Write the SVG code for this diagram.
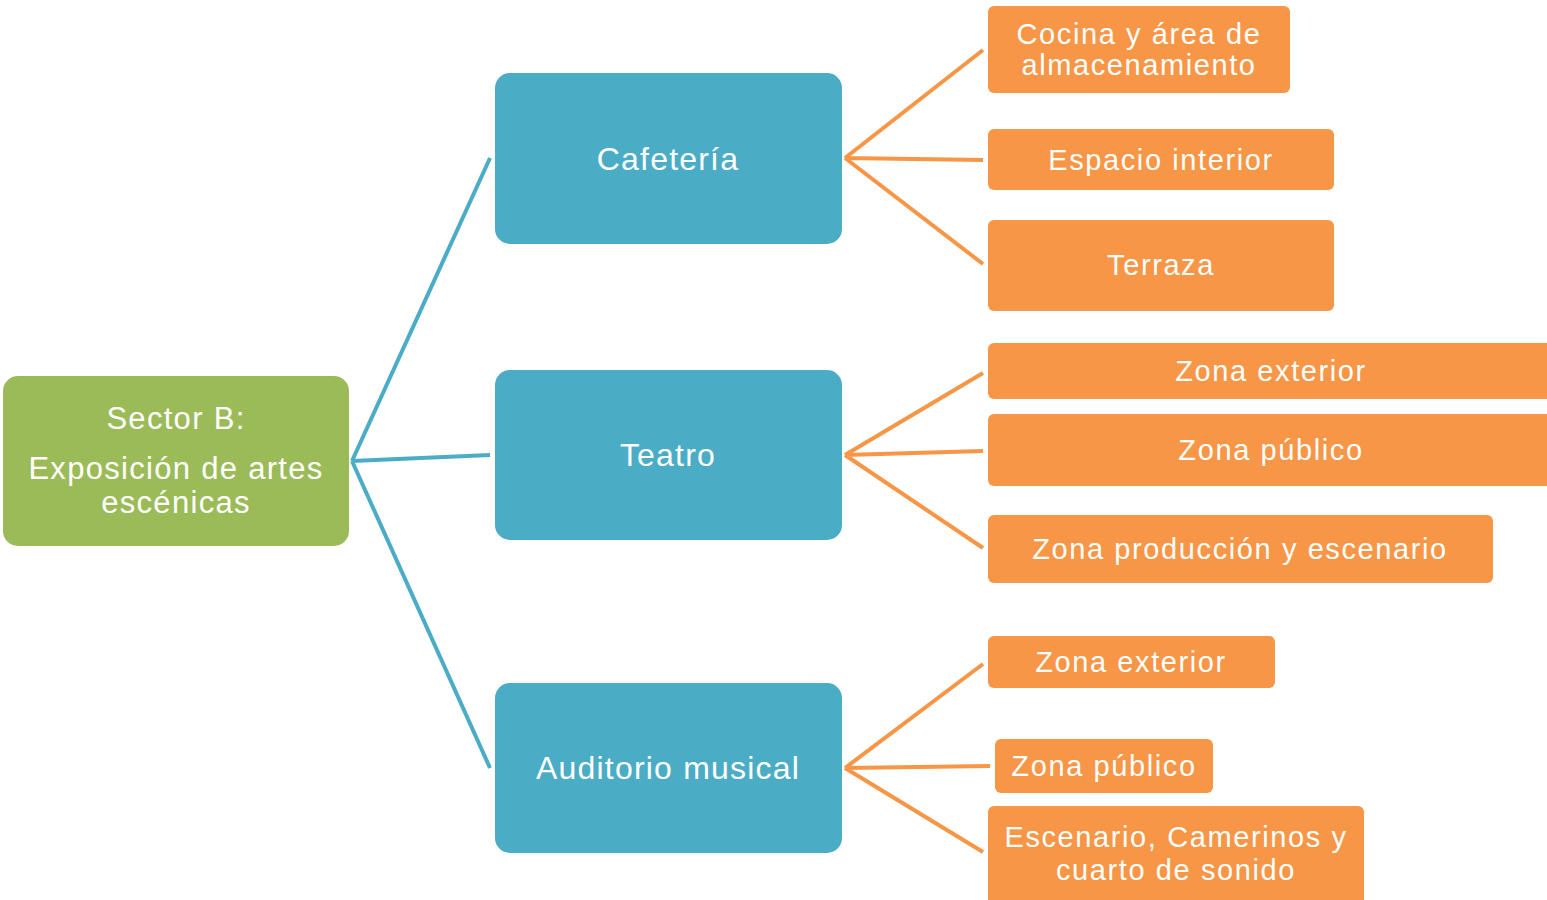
<svg xmlns="http://www.w3.org/2000/svg" width="1547" height="900" viewBox="0 0 1547 900">
<style>
text{font-family:"Liberation Sans",Arial,sans-serif;fill:#fff;text-anchor:middle;dominant-baseline:central}
.g{fill:#9BBB59}
.b{fill:#4BACC6}
.o{fill:#F79646}
.t1{font-size:31px;letter-spacing:1.3px}
.t2{font-size:32px;letter-spacing:1.2px}
.t3{font-size:29px;letter-spacing:1.6px}
.cb{stroke:#4BACC6;stroke-width:4;fill:none}
.co{stroke:#F79646;stroke-width:4;fill:none}
</style>
<rect width="1547" height="900" fill="#fff"/>
<g id="connectors">
<path class="cb" d="M352 461L490 158M352 461L490 455M352 461L490 768"/>
<path class="co" d="M845 158L983 50M845 158L983 160M845 158L983 264"/>
<path class="co" d="M845 455L983 373M845 455L983 451M845 455L983 548"/>
<path class="co" d="M845 768L983 664M845 768L990 766M845 768L983 852"/>
</g>
<g id="root"><rect class="g" x="3" y="376" width="346" height="170" rx="15"/>
<text class="t1" x="176" y="418">Sector B:</text>
<text class="t1" x="176" y="468">Exposición de artes</text>
<text class="t1" x="176" y="502">escénicas</text></g>
<g id="cafeteria"><rect class="b" x="495" y="73" width="347" height="171" rx="15"/>
<text class="t2" x="668" y="159">Cafetería</text></g>
<g id="teatro"><rect class="b" x="495" y="370" width="347" height="170" rx="15"/>
<text class="t2" x="668" y="455">Teatro</text></g>
<g id="auditorio"><rect class="b" x="495" y="683" width="347" height="170" rx="15"/>
<text class="t2" x="668" y="768">Auditorio musical</text></g>
<g id="cocina"><rect class="o" x="988" y="6" width="302" height="87" rx="6"/>
<text class="t3" x="1139" y="34">Cocina y área de</text>
<text class="t3" x="1139" y="65">almacenamiento</text></g>
<g id="espacio"><rect class="o" x="988" y="129" width="346" height="61" rx="6"/>
<text class="t3" x="1161" y="160">Espacio interior</text></g>
<g id="terraza"><rect class="o" x="988" y="220" width="346" height="91" rx="6"/>
<text class="t3" x="1161" y="265">Terraza</text></g>
<g id="t-exterior"><rect class="o" x="988" y="343" width="570" height="56" rx="6"/>
<text class="t3" x="1271" y="371">Zona exterior</text></g>
<g id="t-publico"><rect class="o" x="988" y="414" width="570" height="72" rx="6"/>
<text class="t3" x="1271" y="450">Zona público</text></g>
<g id="t-produccion"><rect class="o" x="988" y="515" width="505" height="68" rx="6"/>
<text class="t3" x="1240" y="549">Zona producción y escenario</text></g>
<g id="a-exterior"><rect class="o" x="988" y="636" width="287" height="52" rx="6"/>
<text class="t3" x="1131" y="662">Zona exterior</text></g>
<g id="a-publico"><rect class="o" x="995" y="739" width="218" height="54" rx="6"/>
<text class="t3" x="1104" y="766">Zona público</text></g>
<g id="a-escenario"><rect class="o" x="988" y="806" width="376" height="100" rx="6"/>
<text class="t3" x="1176" y="837">Escenario, Camerinos y</text>
<text class="t3" x="1176" y="870">cuarto de sonido</text></g>
</svg>
